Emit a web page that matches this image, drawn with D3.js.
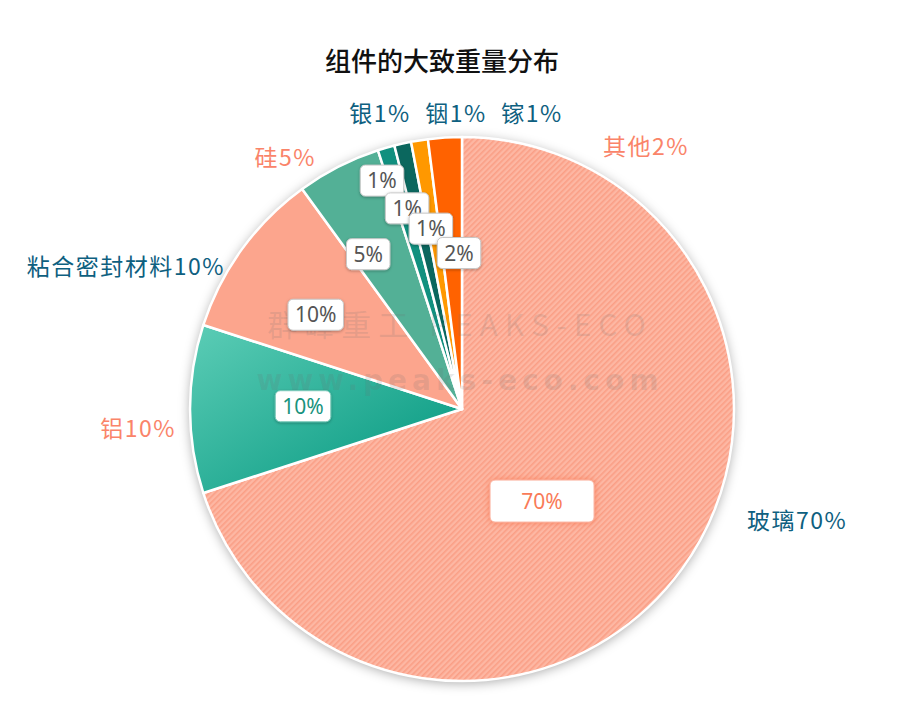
<!DOCTYPE html>
<html><head><meta charset="utf-8">
<script src="https://cdn.jsdelivr.net/npm/d3@7/dist/d3.min.js"></script>
<style>
body{margin:0;background:#fff;}
svg{display:block;font-family:"Noto Sans CJK SC","Noto Sans",sans-serif;}
</style></head>
<body><svg id="c" width="914" height="704"></svg>
<script>
const title = "组件的大致重量分布";
const categories = ["玻璃","铝","粘合密封材料","硅","银","铟","镓","其他"];
const values = [70,10,10,5,1,1,1,2];
const valueLabels = ["70%","10%","10%","5%","1%","1%","1%","2%"];

const colors = ["url(#hatch)","url(#gradAl)","#fca58d","#53b096","#11907f","#0b675e","#ff9800","#ff6200"];
const outerColor = ["#0e6080","#fa8469","#0e6080","#fa8469","#0e6080","#0e6080","#0e6080","#fa8469"];
// layout: inner label polar placement (angle in deg clockwise from top, radius px)
const innerPolar = [[139,122],[271,159],[302.8,174],[328.8,181],[340.7,242],[344.7,208],[350.2,183],[358.9,156]];
// outer label placement relative to pie center
const outerPos = [[285,112,"start"],[-286,20,"end"],[-237,-142,"end"],[-146,-251,"end"],[-82,-295,"middle"],[-6,-295,"middle"],[70,-295,"middle"],[141,-262,"start"]];

const cx = 462, cy = 409, R = 272;
const svg = d3.select("#c");
const defs = svg.append("defs");
const pat = defs.append("pattern").attr("id","hatch").attr("patternUnits","userSpaceOnUse")
  .attr("width",4).attr("height",4).attr("patternTransform","rotate(45)");
pat.append("rect").attr("width",4).attr("height",4).attr("fill","#fdb7a3");
pat.append("rect").attr("width",1.6).attr("height",4).attr("fill","#fa9f86");
const g1 = defs.append("linearGradient").attr("id","gradAl").attr("x1","0").attr("y1","0").attr("x2","1").attr("y2","1");
g1.append("stop").attr("offset","0").attr("stop-color","#5ccdb6");
g1.append("stop").attr("offset","1").attr("stop-color","#00957d");
const f = defs.append("filter").attr("id","shadow").attr("x","-20%").attr("y","-20%").attr("width","140%").attr("height","140%");
f.append("feDropShadow").attr("dx",0).attr("dy",2).attr("stdDeviation",6).attr("flood-color","#000").attr("flood-opacity",0.35);
const f2 = defs.append("filter").attr("id","boxsh").attr("x","-30%").attr("y","-30%").attr("width","160%").attr("height","160%");
f2.append("feDropShadow").attr("dx",0).attr("dy",1).attr("stdDeviation",1.5).attr("flood-color","#000").attr("flood-opacity",0.3);
const f3 = defs.append("filter").attr("id","boxglow").attr("x","-30%").attr("y","-50%").attr("width","160%").attr("height","200%");
f3.append("feDropShadow").attr("dx",0).attr("dy",0).attr("stdDeviation",3).attr("flood-color","#f7764f").attr("flood-opacity",0.8);

svg.append("text").attr("x",442).attr("y",71).attr("text-anchor","middle")
  .attr("font-size",26).attr("font-weight",500).attr("fill","#111").text(title);

const pie = d3.pie().sort(null).value(d=>d)(values);
const arc = d3.arc().innerRadius(0).outerRadius(R);
const g = svg.append("g").attr("transform",`translate(${cx},${cy})`);
g.append("circle").attr("r",R).attr("fill","#fff").attr("filter","url(#shadow)");
g.selectAll("path.s").data(pie).join("path").attr("class","s")
  .attr("d",arc).attr("fill",(d,i)=>colors[i]).attr("stroke","#fff").attr("stroke-width",2.5).attr("stroke-linejoin","round");

// watermark
svg.append("text").attr("x",460).attr("y",336).attr("text-anchor","middle").attr("font-size",30)
  .attr("letter-spacing",7).attr("fill","rgba(110,110,110,0.16)").attr("font-family","'Noto Sans CJK SC',sans-serif").text("群峰重工 PEAKS-ECO");
svg.append("text").attr("x",460).attr("y",390).attr("text-anchor","middle").attr("font-size",28).attr("font-weight",700)
  .attr("letter-spacing",5).attr("fill","rgba(110,110,110,0.16)").attr("font-family","'DejaVu Sans',sans-serif").text("www.peaks-eco.com");

// inner labels
pie.forEach((d,i)=>{
  const a = innerPolar[i][0]*Math.PI/180, r = innerPolar[i][1];
  const x = cx + r*Math.sin(a), y = cy - r*Math.cos(a);
  const big = i===0;
  const fs = 21;
  const lg = svg.append("g").attr("transform",`translate(${x},${y})`);
  const t = lg.append("text").attr("text-anchor","middle").attr("dy","0.36em").attr("font-size",fs)
    .attr("font-family","'Noto Sans','Open Sans',sans-serif")
    .attr("fill", i===0 ? "#f97b58" : (i===1 ? "#17937d" : "#555")).text(valueLabels[i]);
  const w = t.node().getComputedTextLength();
  const bw = big ? 104 : w+14, bh = big ? 42 : 31;
  lg.insert("rect","text").attr("x",-bw/2).attr("y",-bh/2).attr("width",bw).attr("height",bh).attr("rx",5)
    .attr("fill","#fff").attr("stroke", big ? "#fbb39f" : (i===1 ? "#7cc9b9" : "#c8c8c8")).attr("stroke-width",1)
    .attr("filter", big ? "url(#boxglow)" : "url(#boxsh)");
});

// outer labels
pie.forEach((d,i)=>{
  svg.append("text").attr("x",cx+outerPos[i][0]).attr("y",cy+outerPos[i][1]).attr("dy","0.36em")
    .attr("text-anchor",outerPos[i][2]).attr("font-size",23).attr("letter-spacing",1.5)
    .attr("fill",outerColor[i]).text(categories[i]+valueLabels[i]);
});
</script></body></html>
